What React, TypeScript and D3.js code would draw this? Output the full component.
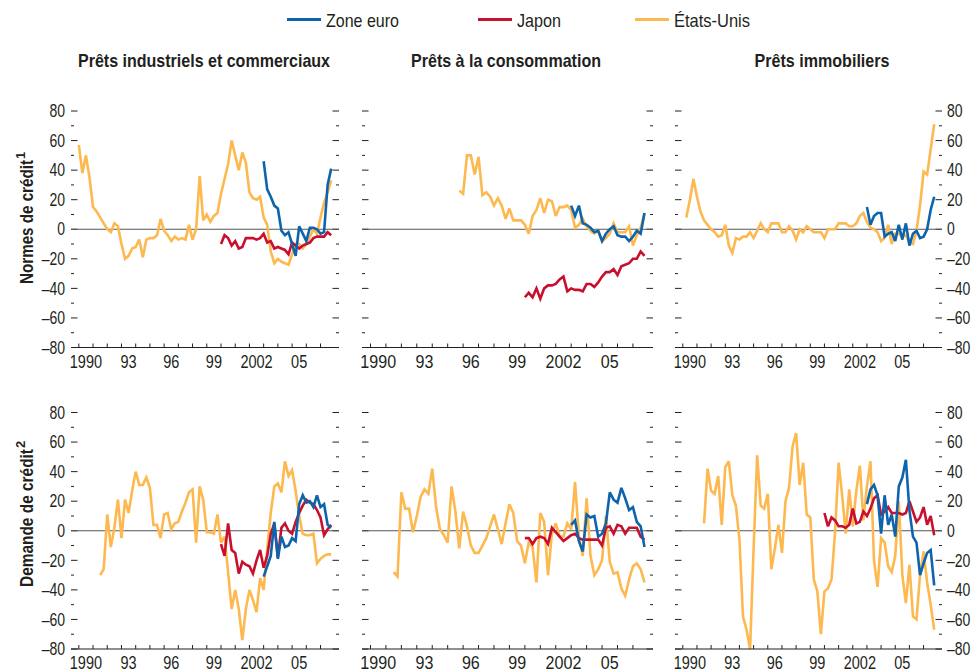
import React from 'react';
import * as d3 from 'd3';

const FONT = '"Liberation Sans", Arial, Helvetica, sans-serif';
const INK = '#231f20';

const legendNames = ['Zone euro', 'Japon', 'États-Unis'];
const colEuro = '#0d64ad';
const colJapan = '#c8102e';
const colUS = '#fdb94f';

const panelTitles = ['Prêts industriels et commerciaux', 'Prêts à la consommation', 'Prêts immobiliers'];
const rowTitles = ['Normes de crédit', 'Demande de crédit'];
const rowNotes = ['1', '2'];
const yTickValues = [-80, -70, -60, -50, -40, -30, -20, -10, 0, 10, 20, 30, 40, 50, 60, 70, 80];
const xTickYears = d3.range(1990, 2008);
const xLabelYears = [1990, 1993, 1996, 1999, 2002, 2005];
const xLabelTexts = ['1990', '93', '96', '99', '2002', '05'];

// ---- Normes de crédit (standards) ----
const usCIStandards = [57, 38, 50, 35, 15, 12, 8, 4, 0, -2, 4, 2, -10, -20, -18, -13, -12, -7, -19, -7, -6, -6, -4, 7, -1, -4, -8, -5, -7, -6, -7, 3, -7, 0, 36, 6, 10, 5, 9, 11, 24, 34, 44, 60, 50, 40, 52, 45, 25, 21, 20, 22, 8, 3, -15, -23, -20, -22, -23, -24, -17, -10, -10, -13, -10, -5, 0, -3, 8, 18, 25, 33];
const euroCIStandards = [46, 27, 22, 16, 14, -1, -4, -2, -10, -18, 2, -3, -8, 1, 1, 0, -3, -2, 30, 41];
const japanCIStandards = [-10, -4, -6, -11, -8, -13, -12, -6, -6, -6, -7, -6, -3, -9, -8, -13, -12, -13, -14, -17, -9, -11, -13, -11, -10, -9, -6, -5, -5, -5, -2, -4];

const usConsStandards = [26, 24, 50, 50, 37, 49, 23, 25, 22, 16, 21, 16, 7, 14, 6, 6, 6, 3, -3, 9, 13, 21, 11, 20, 19, 9, 15, 15, 16, 13, 1, 3, 7, 2, -1, -3, -1, -8, -6, -3, 4, -2, -2, -2, 2, -11, -4, 1, 11];
const euroConsStandards = [16, 9, 16, 4, 3, 1, -2, -1, -8, -3, 0, 2, -4, -5, -5, -8, -5, -1, -3, 11];
const japanConsStandards = [-46, -43, -46, -40, -47, -40, -38, -38, -37, -34, -32, -42, -40, -41, -41, -42, -37, -37, -39, -36, -32, -29, -29, -27, -31, -25, -24, -23, -20, -20, -15, -18];

const usMortStandards = [8, 20, 34, 22, 12, 6, 3, 0, -2, -5, -4, 3, -11, -16, -6, -7, -5, -5, -2, -6, -1, 4, 0, -2, 4, 4, 4, -2, -2, 2, -1, -7, 0, -2, 2, 0, -2, -2, -2, -6, 0, 0, 0, 4, 4, 4, 2, 2, 4, 9, 11, 5, 1, 0, -2, -8, -6, 3, -10, -3, -3, -5, -4, -9, -10, -1, 16, 39, 37, 54, 71];
const euroMortStandards = [15, 3, 9, 11, 11, -5, -3, -2, -8, 3, -7, 4, -11, -3, -1, -6, -5, 0, 13, 22];

// ---- Demande de crédit (demand) ----
const usCIDemand = [-30, -26, 11, -11, 2, 21, -5, 21, 12, 27, 40, 31, 31, 36, 29, 4, 4, -5, 11, 12, 1, 5, 6, 13, 19, 26, 28, -8, 30, 21, -1, -1, -2, 11, -8, -4, -28, -53, -40, -53, -74, -53, -40, -47, -55, -32, -40, -12, 12, 30, 32, 26, 47, 37, 41, 27, 10, -2, -3, -3, -2, -22, -19, -17, -16, -16];
const euroCIDemand = [-31, -24, -17, 6, -19, -4, -11, -10, -5, -7, 18, 24, 19, 20, 16, 24, 16, 18, 4, 2];
const japanCIDemand = [-9, -17, 5, -13, -15, -29, -21, -23, -24, -29, -20, -13, -25, -17, -2, 5, -18, 2, 5, 0, -2, 6, 12, 17, 21, 19, 18, 14, 9, -3, 1, 4];

const usConsDemand = [-28, -31, 26, 15, 15, -1, 10, 23, 28, 25, 42, 16, 1, -3, -8, 30, 13, -12, 13, 3, -10, -15, -15, -10, -5, 3, 11, 1, -9, 5, 18, 12, -7, -10, -22, -8, -11, -35, 12, 6, -30, -2, 5, -4, -4, 5, 1, 33, -4, -17, 22, -17, -30, -26, -20, 10, -21, -29, -28, -39, -44, -33, -24, -22, -26, -35];
const euroConsDemand = [4, 7, -7, -14, 11, 9, 10, -4, -2, 5, 26, 21, 19, 29, 22, 14, 16, 6, 3, -11];
const japanConsDemand = [-5, -5, -9, -5, -4, -5, -9, 2, -1, -4, -7, -5, -3, -2, -5, -6, -6, -6, -6, -6, -10, 2, 3, -2, 4, 3, -2, 2, 2, 2, -4, -6];

const usMortDemand = [5, 42, 27, 25, 37, 4, 43, 47, 24, 17, -6, -58, -67, -80, -12, 51, 17, 15, 25, -26, -12, 4, -15, 20, 29, 57, 66, 31, 46, 11, 9, -33, -41, -70, -41, -39, -33, -1, 46, 24, -2, 28, 3, 27, 44, 7, 30, 47, -20, -38, -5, -8, -24, -28, -17, 20, -30, -49, -23, -58, -60, -30, -14, -35, -50, -67];
const euroMortDemand = [18, 28, 31, 24, -2, 24, 4, 11, -4, 30, 36, 48, 14, -4, -8, -30, -22, -15, -13, -37];
const japanMortDemand = [12, 3, 9, 7, 3, 3, 2, 4, 15, 5, 6, 13, 10, 15, 22, 24, 11, 13, 16, 12, 12, 12, 11, 12, 20, 13, 6, 9, 16, 4, 10, -3];

// first quarter of each series (decimal year)
const usStartStdCI = 1990.0;
const usStartStdCons = 1995.75;
const usStartStdMort = 1990.25;
const usStartDemand = 1991.5;
const euroStart = 2003.0;
const japanStart = 2000.0;

type S = { values: number[]; start: number; color: string };

const panelSeries: S[][][] = [
  [
    [
      { values: usCIStandards, start: usStartStdCI, color: colUS },
      { values: japanCIStandards, start: japanStart, color: colJapan },
      { values: euroCIStandards, start: euroStart, color: colEuro },
    ],
    [
      { values: usConsStandards, start: usStartStdCons, color: colUS },
      { values: japanConsStandards, start: japanStart, color: colJapan },
      { values: euroConsStandards, start: euroStart, color: colEuro },
    ],
    [
      { values: usMortStandards, start: usStartStdMort, color: colUS },
      { values: euroMortStandards, start: euroStart, color: colEuro },
    ],
  ],
  [
    [
      { values: usCIDemand, start: usStartDemand, color: colUS },
      { values: japanCIDemand, start: japanStart, color: colJapan },
      { values: euroCIDemand, start: euroStart, color: colEuro },
    ],
    [
      { values: usConsDemand, start: usStartDemand, color: colUS },
      { values: japanConsDemand, start: japanStart, color: colJapan },
      { values: euroConsDemand, start: euroStart, color: colEuro },
    ],
    [
      { values: usMortDemand, start: usStartDemand, color: colUS },
      { values: japanMortDemand, start: japanStart, color: colJapan },
      { values: euroMortDemand, start: euroStart, color: colEuro },
    ],
  ],
];

// layout
const X_DOMAIN: [number, number] = [1989.45, 2008.3];
const COLS: [number, number][] = [[71, 339], [362, 653], [675, 942]];
const ROWS: [number, number][] = [[347.5, 111], [649, 412.5]];
const COL_LABEL_SX = [0.83, 0.92, 0.83];
const TITLE_CX = [204, 506, 822];
const TITLE_LEN = [252, 190, 135];
const ROWTITLE_CY = [222, 518];
const ROWTITLE_LEN = [124, 138];
const LEGEND_X = [287, 478, 635];
const LEGEND_LEN = [73, 44, 76];
const legendColors = [colEuro, colJapan, colUS];
const TICK_FS = 17.5;

function fmt(v: number) {
  return v < 0 ? '\u2013' + Math.abs(v) : String(v);
}

function Panel({ row, col }: { row: number; col: number }) {
  const [x0, x1] = COLS[col];
  const [yb, yt] = ROWS[row];
  const xs = d3.scaleLinear().domain(X_DOMAIN).range([x0, x1]);
  const ys = d3.scaleLinear().domain([-80, 80]).range([yb, yt]);
  const series = panelSeries[row][col];
  const sx = COL_LABEL_SX[col];
  return (
    <g>
      {yTickValues.map((v) => {
        const major = v % 20 === 0;
        const len = major ? 6.5 : 3;
        return (
          <g key={v}>
            <line x1={x0} x2={x0 + len} y1={ys(v)} y2={ys(v)} stroke={INK} strokeWidth={1} />
            <line x1={x1 - len} x2={x1} y1={ys(v)} y2={ys(v)} stroke={INK} strokeWidth={1} />
          </g>
        );
      })}
      <line x1={x0} x2={x1} y1={ys(0)} y2={ys(0)} stroke="#555" strokeWidth={1} />
      {series.map((s, k) => {
        const line = d3
          .line<number>()
          .x((_, i) => xs(s.start + i / 4))
          .y((d) => ys(d));
        return (
          <path key={k} d={line(s.values) || ''} fill="none" stroke={s.color} strokeWidth={2.6} strokeLinejoin="miter" strokeMiterlimit={3} />
        );
      })}
      <line x1={x0} x2={x1} y1={yb} y2={yb} stroke={INK} strokeWidth={1.2} />
      {xTickYears.map((yr) => (
        <line key={yr} x1={xs(yr)} x2={xs(yr)} y1={yb} y2={yb - 4} stroke={INK} strokeWidth={1} />
      ))}
      {xLabelYears.map((yr, i) => (
        <text
          key={yr}
          transform={`translate(${xs(yr + 0.5)},${yb + 20}) scale(${sx},1)`}
          textAnchor="middle"
          fontSize={TICK_FS}
          fontFamily={FONT}
          fill={INK}
        >
          {xLabelTexts[i]}
        </text>
      ))}
      {col === 0 &&
        yTickValues
          .filter((v) => v % 20 === 0)
          .map((v) => (
            <text
              key={'l' + v}
              transform={`translate(${x0 - 6},${ys(v) + 6.2}) scale(0.8,1)`}
              textAnchor="end"
              fontSize={TICK_FS}
              fontFamily={FONT}
              fill={INK}
            >
              {fmt(v)}
            </text>
          ))}
      {col === 2 &&
        yTickValues
          .filter((v) => v % 20 === 0)
          .map((v) => (
            <text
              key={'r' + v}
              transform={`translate(${x1 + 5},${ys(v) + 6.2}) scale(0.8,1)`}
              textAnchor="start"
              fontSize={TICK_FS}
              fontFamily={FONT}
              fill={INK}
            >
              {fmt(v)}
            </text>
          ))}
    </g>
  );
}

export default function App() {
  return (
    <svg
      width={978}
      height={669}
      viewBox="0 0 978 669"
      style={{ position: 'absolute', left: 0, top: 0, background: '#fff' }}
      fontFamily={FONT}
    >
      <rect width={978} height={669} fill="#fff" />
      {legendNames.map((n, i) => (
        <g key={n}>
          <line x1={LEGEND_X[i]} x2={LEGEND_X[i] + 34} y1={19.5} y2={19.5} stroke={legendColors[i]} strokeWidth={3} />
          <text x={LEGEND_X[i] + 39} y={26.5} fontSize={18.5} fill={INK} textLength={LEGEND_LEN[i]} lengthAdjust="spacingAndGlyphs">
            {n}
          </text>
        </g>
      ))}
      {panelTitles.map((t, i) => (
        <text
          key={t}
          x={TITLE_CX[i] - TITLE_LEN[i] / 2}
          y={67}
          fontSize={18.5}
          fontWeight="bold"
          fill={INK}
          textLength={TITLE_LEN[i]}
          lengthAdjust="spacingAndGlyphs"
        >
          {t}
        </text>
      ))}
      {rowTitles.map((t, r) => (
        <g key={t} transform={`translate(33,${ROWTITLE_CY[r]}) rotate(-90)`}>
          <text
            x={-ROWTITLE_LEN[r] / 2}
            y={0}
            fontSize={19}
            fontWeight="bold"
            fill={INK}
            textLength={ROWTITLE_LEN[r]}
            lengthAdjust="spacingAndGlyphs"
          >
            {t}
          </text>
          <text x={ROWTITLE_LEN[r] / 2 + 1} y={-8} fontSize={13} fontWeight="bold" fill={INK}>
            {rowNotes[r]}
          </text>
        </g>
      ))}
      {[0, 1].map((r) => [0, 1, 2].map((c) => <Panel key={r + '-' + c} row={r} col={c} />))}
    </svg>
  );
}
